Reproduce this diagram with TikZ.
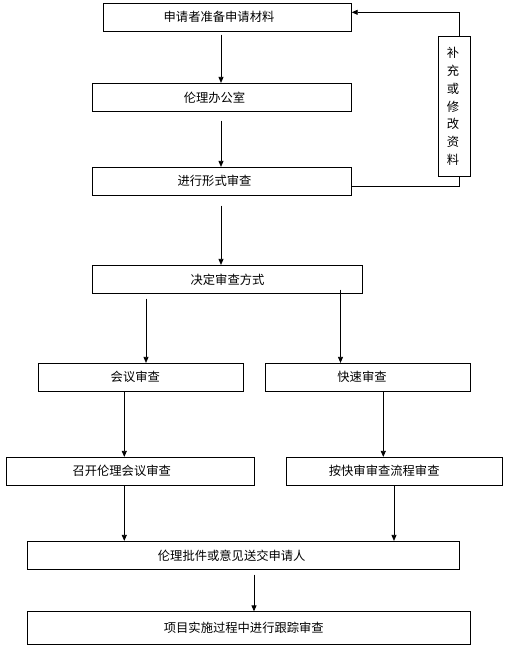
\documentclass[tikz,border=0pt]{standalone}
\usepackage{fontspec}
\setmainfont{Noto Sans CJK SC}
\usetikzlibrary{arrows.meta}
\begin{document}
\begin{tikzpicture}[x=1pt,y=-1pt,
  box/.style={draw,line width=0.8pt,inner sep=0pt,minimum height=28pt},
  txt/.style={inner sep=0pt,font=\fontsize{12.3}{14}\selectfont},
  arr/.style={line width=0.8pt,-{Triangle[length=6pt,width=5pt]}},
  ln/.style={line width=0.8pt}]
\useasboundingbox (0,0) rectangle (512,649);
\node[box,minimum width=248pt] (b1) at (227.3,17.3) {};
\node[txt] (t1) at (219,17.3) {申请者准备申请材料};
\node[box,minimum width=259pt] (b2) at (222,97.3) {};
\node[txt] (t2) at (214.5,97.3) {伦理办公室};
\node[box,minimum width=259pt] (b3) at (222,181.3) {};
\node[txt] (t3) at (214.5,181.3) {进行形式审查};
\node[box,minimum width=270pt] (b4) at (227.3,279.3) {};
\node[txt] (t4) at (227.5,279.3) {决定审查方式};
\node[box,minimum width=205pt] (b5) at (141,377.3) {};
\node[txt] (t5) at (135.3,377.3) {会议审查};
\node[box,minimum width=205pt] (b6) at (367.8,377.3) {};
\node[txt] (t6) at (362,377.3) {快速审查};
\node[box,minimum width=248.7pt] (b7) at (130.3,471.3) {};
\node[txt] (t7) at (121.7,471.3) {召开伦理会议审查};
\node[box,minimum width=216pt] (b8) at (394.3,471.3) {};
\node[txt] (t8) at (384.2,471.3) {按快审审查流程审查};
\node[box,minimum width=432pt] (b9) at (243.3,555.3) {};
\node[txt] (t9) at (231.7,555.3) {伦理批件或意见送交申请人};
\node[box,minimum width=443pt,minimum height=32.3pt] (b10) at (248.8,627.9) {};
\node[txt] (t10) at (243.8,627.9) {项目实施过程中进行跟踪审查};
\node[box,minimum width=32pt,minimum height=140pt] (side) at (454,106) {};
\node[txt,align=center,font=\fontsize{12.3}{17.8}\selectfont] (ts) at (453,106.5) {补\\充\\或\\修\\改\\资\\料};
% arrows
\draw[arr] ([yshift=-3pt]221,0 |- b1.south) -- (221,0 |- b2.north);
\draw[arr] ([yshift=-9pt]221,0 |- b2.south) -- (221,0 |- b3.north);
\draw[arr] ([yshift=-10pt]221,0 |- b3.south) -- (221,0 |- b4.north);
\draw[arr] ([yshift=-5pt]146,0 |- b4.south) -- (146,0 |- b5.north);
\draw[arr] ([yshift=4pt]340.5,0 |- b4.south) -- (340.5,0 |- b6.north);
\draw[arr] (124.3,0 |- b5.south) -- (124.3,0 |- b7.north);
\draw[arr] (383.3,0 |- b6.south) -- (383.3,0 |- b8.north);
\draw[arr] (124.3,0 |- b7.south) -- (124.3,0 |- b9.north);
\draw[arr] (394,0 |- b8.south) -- (394,0 |- b9.north);
\draw[arr] ([yshift=-5pt]254,0 |- b9.south) -- (254,0 |- b10.north);
% feedback
\draw[ln] (b3.east |- 0,186) -- (459.3,186) -- (459.3,0 |- side.south);
\draw[arr] (459.3,0 |- side.north) -- (459.3,12.3) -- (b1.east |- 0,12.3);
\end{tikzpicture}
\end{document}
